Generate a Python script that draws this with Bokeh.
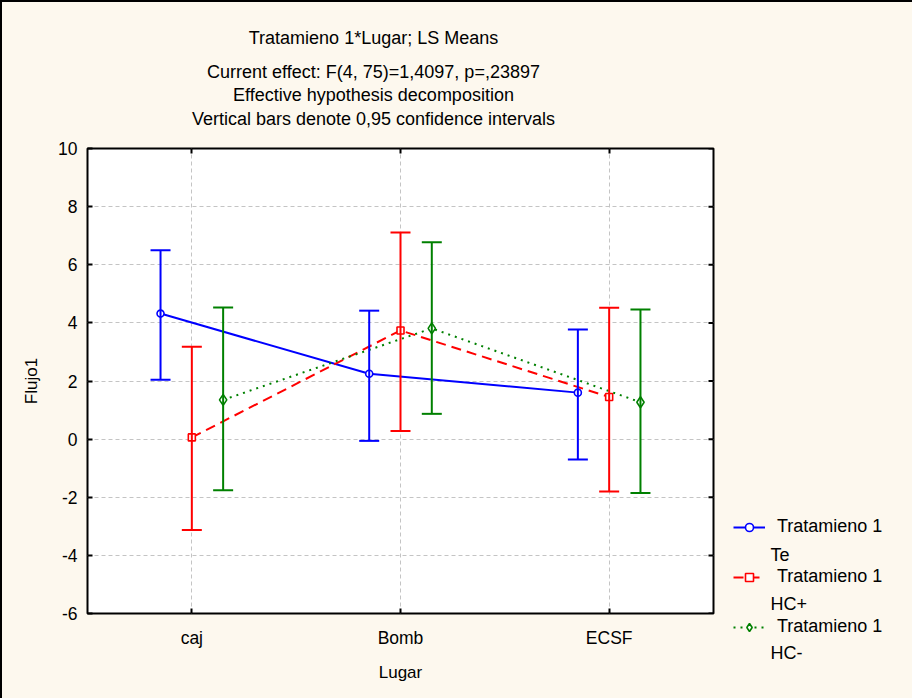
import math
from bokeh.plotting import figure
from bokeh.layouts import column, row
from bokeh.models import (ColumnDataSource, Whisker, TeeHead, Legend, LegendItem,
                          Label, FixedTicker, LinearAxis, Range1d)
from bokeh.embed import file_html
from bokeh.resources import INLINE

# LS means of Flujo1 by Lugar for each level of Tratamieno 1, with 95% CIs
places = ["caj", "Bomb", "ECSF"]
place_pos = [1, 2, 3]

te_mean = [4.32, 2.25, 1.60]
te_lo = [2.04, -0.06, -0.70]
te_hi = [6.50, 4.42, 3.77]

hcp_mean = [0.06, 3.74, 1.45]
hcp_lo = [-3.13, 0.28, -1.80]
hcp_hi = [3.18, 7.11, 4.52]

hcm_mean = [1.35, 3.81, 1.27]
hcm_lo = [-1.76, 0.87, -1.85]
hcm_hi = [4.53, 6.77, 4.46]

y_ticks = [-6, -4, -2, 0, 2, 4, 6, 8, 10]

title_lines = [
    "Tratamieno 1*Lugar; LS Means",
    "Current effect: F(4, 75)=1,4097, p=,23897",
    "Effective hypothesis decomposition",
    "Vertical bars denote 0,95 confidence intervals",
]
legend_group = "Tratamieno 1"
legend_levels = ["Te", "HC+", "HC-"]

FONT = "Liberation Sans"
BG = "#fdf8ee"
W, H = 912, 698
EDGE = 2           # black rule along the top and left of the page
HEAD_B = 130       # bottom of the title strip, page pixels
SIDE_W = 197       # legend strip width
FILL = {"background-color": BG}


def blank(width, height, x_range, y_range):
    f = figure(width=width, height=height, x_range=x_range, y_range=y_range,
               x_axis_type=None, y_axis_type=None, toolbar_location=None,
               output_backend="svg", min_border=0,
               min_border_left=0, min_border_right=0,
               min_border_top=0, min_border_bottom=0,
               background_fill_color=BG, border_fill_color=BG, styles=FILL)
    f.outline_line_color = None
    f.frame_align = False
    return f


# ---- title strip (page pixel coordinates, origin top-left) ----
head = blank(W - EDGE, HEAD_B - EDGE, Range1d(EDGE, W), Range1d(HEAD_B, EDGE))
for txt, yy in zip(title_lines, [37, 71, 94, 118]):
    head.add_layout(Label(x=373, y=yy, text=txt, text_align="center",
                          text_baseline="middle", text_font=FONT,
                          text_font_size="18px", text_color="black"))

# ---- main plot ----
p = figure(width=W - SIDE_W - EDGE, height=H - HEAD_B, output_backend="svg",
           toolbar_location=None, x_range=(0.5, 3.5), y_range=(-6, 10),
           min_border_left=87 - EDGE, min_border_right=2,
           min_border_top=18, min_border_bottom=85,
           background_fill_color="white", border_fill_color=BG, styles=FILL)
p.outline_line_color = "black"
p.outline_line_width = 2
p.frame_align = False

p.xaxis.ticker = FixedTicker(ticks=place_pos)
p.xaxis.major_label_overrides = {pos: name for pos, name in zip(place_pos, places)}
p.yaxis.ticker = FixedTicker(ticks=y_ticks)
p.yaxis.major_label_overrides = {t: str(t) for t in y_ticks}
p.xaxis.axis_label = "Lugar"
p.yaxis.axis_label = "Flujo1"
for ax in (p.xaxis[0], p.yaxis[0]):
    ax.axis_line_color = None
    ax.major_tick_in = 5
    ax.major_tick_out = 0
    ax.major_tick_line_width = 2
    ax.minor_tick_line_color = None
    ax.major_label_text_font = FONT
    ax.major_label_text_font_size = "17.5px"
    ax.major_label_text_color = "black"
    ax.axis_label_text_font = FONT
    ax.axis_label_text_font_size = "17px"
    ax.axis_label_text_font_style = "normal"
    ax.axis_label_text_color = "black"
p.xaxis.major_label_standoff = 14
p.xaxis.axis_label_standoff = 12
p.yaxis.major_label_standoff = 10
p.yaxis.axis_label_standoff = 14

# inward ticks along the top edge
top_ax = LinearAxis(ticker=FixedTicker(ticks=place_pos), axis_line_color=None,
                    major_tick_in=5, major_tick_out=0, major_tick_line_width=2,
                    minor_tick_line_color=None, major_label_text_font_size="0px",
                    major_label_standoff=0)
p.add_layout(top_ax, "above")
# inward ticks along the right edge
p.ray(x=[3.5] * len(y_ticks), y=y_ticks, length=5, length_units="screen",
      angle=math.pi, line_color="black", line_width=2)

p.grid.grid_line_color = "#c4c4c4"
p.grid.grid_line_dash = "4 3"
p.grid.grid_line_width = 1

series = [
    (te_mean, te_lo, te_hi, -0.15, "#0000ff", "solid", "circle", 7),
    (hcp_mean, hcp_lo, hcp_hi, 0.0, "#ff0000", "10 6", "square", 7),
    (hcm_mean, hcm_lo, hcm_hi, 0.15, "#008000", "2 5", "diamond", 11),
]

for mean, lo, hi, off, color, dash, marker, msize in series:
    src = ColumnDataSource(dict(x=[v + off for v in place_pos], mean=mean, lo=lo, hi=hi))
    p.add_layout(Whisker(source=src, base="x", lower="lo", upper="hi", dimension="height",
                         line_color=color, line_width=2, level="glyph",
                         upper_head=TeeHead(size=20, line_color=color, line_width=2),
                         lower_head=TeeHead(size=20, line_color=color, line_width=2)))
    p.line("x", "mean", source=src, line_color=color, line_width=2, line_dash=dash)
    p.scatter("x", "mean", source=src, marker=marker, size=msize,
              line_color=color, line_width=1.6, fill_color="white")

# ---- legend strip (x from the strip's left edge, y in page pixels) ----
side = blank(SIDE_W, H - HEAD_B, Range1d(0, SIDE_W), Range1d(H, HEAD_B))
nan = float("nan")
items = []
for (mean, lo, hi, off, color, dash, marker, msize), lvl in zip(series, legend_levels):
    k_line = side.line(x=[nan, nan], y=[nan, nan], line_color=color, line_width=2,
                       line_dash=dash)
    k_mark = side.scatter(x=[nan], y=[nan], marker=marker, size=msize, line_color=color,
                          line_width=1.6, fill_color="white")
    items.append(LegendItem(label=legend_group, renderers=[k_line, k_mark]))

side.add_layout(Legend(items=items, location=(18, 61), orientation="vertical",
                       glyph_width=32, glyph_height=20, label_height=20,
                       spacing=29, padding=0, margin=0, label_standoff=12,
                       label_text_font=FONT, label_text_font_size="18px",
                       label_text_color="black",
                       border_line_alpha=0, background_fill_alpha=0))
for lvl, yy in zip(legend_levels, [554, 603, 652]):
    side.add_layout(Label(x=55, y=yy, text=lvl, text_align="left", text_baseline="middle",
                          text_font=FONT, text_font_size="18px", text_color="black"))

page = column(head, row(p, side, spacing=0, styles=FILL), spacing=0,
              styles={"border-top": f"{EDGE}px solid black",
                      "border-left": f"{EDGE}px solid black",
                      "box-sizing": "border-box",
                      "background-color": BG})

open("out.html", "w").write(file_html(page, INLINE))
